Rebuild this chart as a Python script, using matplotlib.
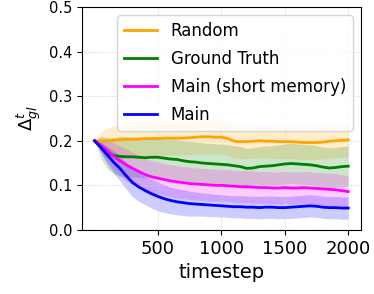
import numpy as np
import matplotlib.pyplot as plt

timesteps = list(range(0, 2001, 50))

random_mean = [0.200, 0.199, 0.200, 0.201, 0.202, 0.203, 0.203, 0.204, 0.205, 0.205,
               0.205, 0.206, 0.206, 0.206, 0.206, 0.207, 0.208, 0.209, 0.209, 0.208,
               0.208, 0.205, 0.199, 0.198, 0.198, 0.199, 0.200, 0.199, 0.199, 0.198,
               0.198, 0.198, 0.197, 0.196, 0.196, 0.196, 0.197, 0.199, 0.200, 0.201, 0.202]
random_std = [0.0, 0.022, 0.028, 0.032, 0.035] + [0.038] * 36

gt_mean = [0.200, 0.185, 0.172, 0.167, 0.165, 0.164, 0.164, 0.163, 0.162, 0.163,
           0.163, 0.161, 0.159, 0.158, 0.155, 0.153, 0.152, 0.150, 0.149, 0.148,
           0.147, 0.146, 0.144, 0.142, 0.138, 0.139, 0.142, 0.143, 0.144, 0.146,
           0.148, 0.149, 0.148, 0.147, 0.146, 0.144, 0.141, 0.139, 0.140, 0.142, 0.143]
gt_std = [0.0, 0.025, 0.035, 0.040] + [0.045] * 37

short_mean = [0.200, 0.190, 0.178, 0.165, 0.155, 0.146, 0.138, 0.131, 0.124, 0.119,
              0.116, 0.113, 0.110, 0.108, 0.106, 0.104, 0.103, 0.102, 0.101, 0.100,
              0.100, 0.099, 0.098, 0.097, 0.097, 0.096, 0.095, 0.095, 0.094, 0.094,
              0.095, 0.094, 0.094, 0.095, 0.094, 0.093, 0.092, 0.091, 0.090, 0.088, 0.086]
short_std = [0.0, 0.015, 0.025, 0.030, 0.033] + [0.036] * 36

main_mean = [0.200, 0.185, 0.168, 0.152, 0.138, 0.121, 0.106, 0.096, 0.088, 0.081,
             0.075, 0.070, 0.066, 0.063, 0.061, 0.059, 0.058, 0.057, 0.056, 0.055,
             0.054, 0.053, 0.052, 0.052, 0.051, 0.051, 0.050, 0.051, 0.051, 0.050,
             0.050, 0.051, 0.052, 0.053, 0.054, 0.053, 0.051, 0.050, 0.050, 0.049, 0.049]
main_std = [0.0, 0.012, 0.020, 0.025, 0.028, 0.030, 0.032, 0.032, 0.032, 0.032,
            0.032, 0.031, 0.030, 0.029, 0.029, 0.028, 0.027, 0.026, 0.026, 0.025,
            0.025] + [0.025] * 20

labels = ['Random', 'Ground Truth', 'Main (short memory)', 'Main']
colors = ['orange', 'green', 'magenta', 'blue']
means = [random_mean, gt_mean, short_mean, main_mean]
stds = [random_std, gt_std, short_std, main_std]

fig = plt.figure(figsize=(3.74, 2.94), dpi=100)
ax = fig.add_axes([0.219, 0.218, 0.746, 0.758])

t = np.array(timesteps)
for lab, c, m, s in zip(labels, colors, means, stds):
    m = np.array(m)
    s = np.array(s)
    ax.fill_between(t, m - s, m + s, color=c, alpha=0.2, linewidth=0)
    ax.plot(t, m, color=c, linewidth=2, label=lab)

ax.set_ylim(0, 0.5)
ax.set_xlim(-100, 2100)
ax.set_xticks([500, 1000, 1500, 2000])
ax.set_yticks([0.0, 0.1, 0.2, 0.3, 0.4, 0.5])
ax.tick_params(axis='x', labelsize=13)
ax.tick_params(axis='y', labelsize=10.5)
ax.grid(True, linestyle=':', color='lightgray')
ax.set_xlabel('timestep', fontsize=14)
ax.set_ylabel(r'$\Delta_{gl}^t$', fontsize=13)
ax.legend(loc='upper right', fontsize=12, labelspacing=0.6)

fig.savefig('out.png', dpi=100)
